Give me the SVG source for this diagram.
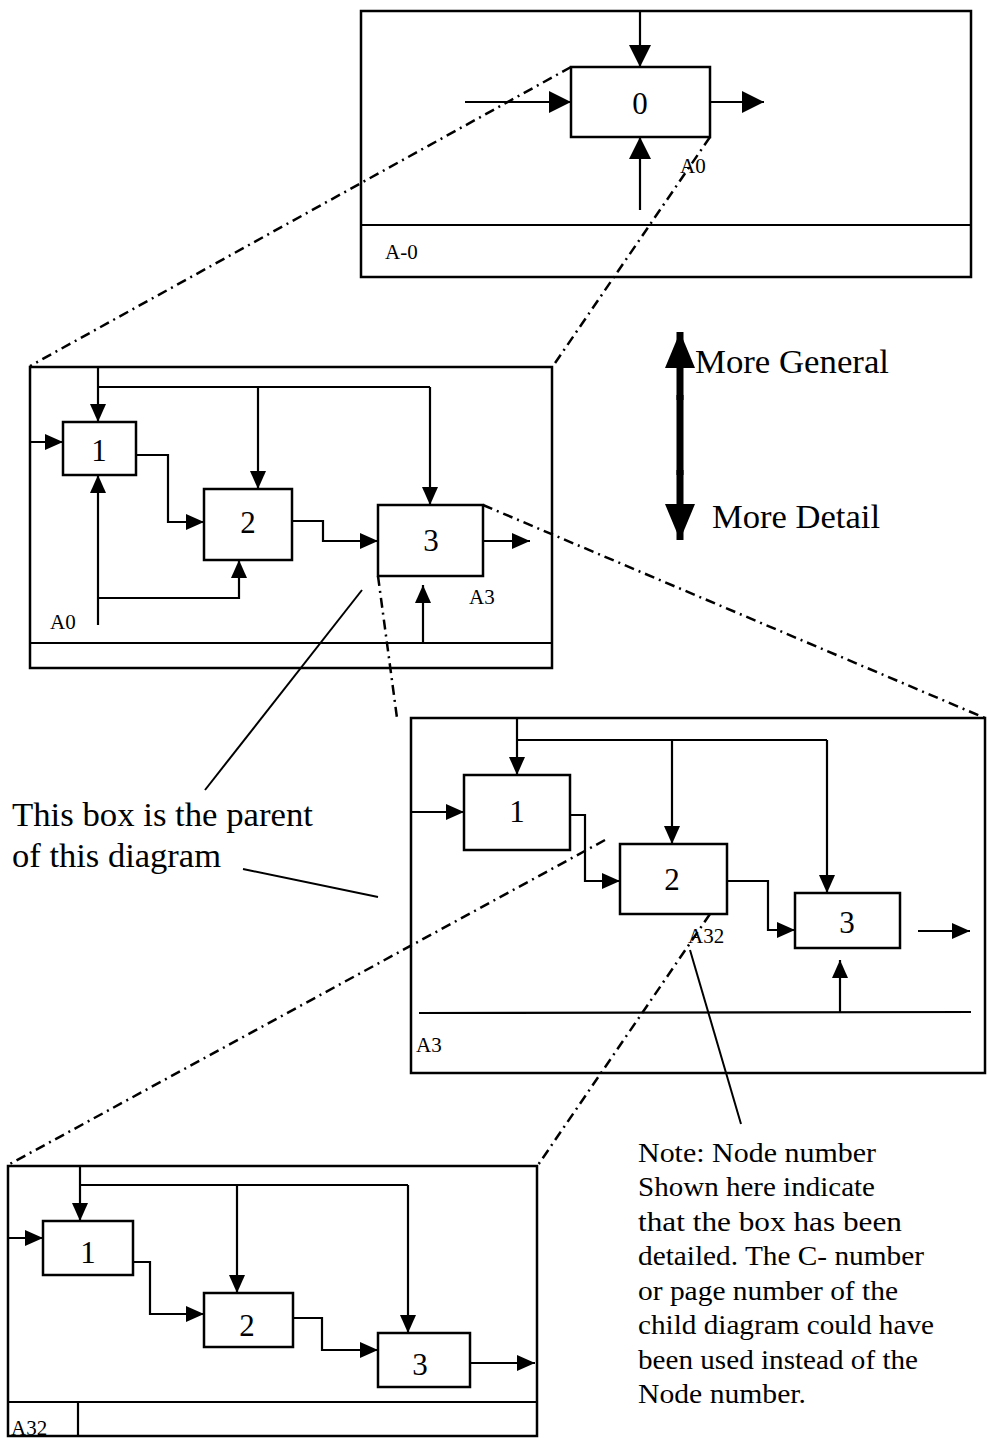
<svg xmlns="http://www.w3.org/2000/svg" width="987" height="1438" viewBox="0 0 987 1438">
<defs>
<marker id="ah" markerUnits="userSpaceOnUse" markerWidth="20" markerHeight="18" refX="18" refY="8" orient="auto"><path d="M0,0 L18,8 L0,16 z" fill="#000"/></marker>
<marker id="ahL" markerUnits="userSpaceOnUse" markerWidth="24" markerHeight="24" refX="22" refY="11" orient="auto"><path d="M0,0 L22,11 L0,22 z" fill="#000"/></marker>
<marker id="big" markerUnits="userSpaceOnUse" markerWidth="40" markerHeight="32" refX="36" refY="15" orient="auto"><path d="M0,0 L36,15 L0,30 z" fill="#000"/></marker>
<style>
.fr{fill:none;stroke:#000;stroke-width:2.5}
.bx{fill:#fff;stroke:#000;stroke-width:2.5}
.ln{fill:none;stroke:#000;stroke-width:2.2}
.ar{fill:none;stroke:#000;stroke-width:2.2;marker-end:url(#ah)}
.arL{fill:none;stroke:#000;stroke-width:2.2;marker-end:url(#ahL)}
.dd{fill:none;stroke:#000;stroke-width:2.5;stroke-dasharray:10 5 2 5}
.ptr{fill:none;stroke:#000;stroke-width:2}
.num{font-family:"Liberation Serif",serif;font-size:31px;text-anchor:middle}
.lab{font-family:"Liberation Serif",serif;font-size:21px}
.big{font-family:"Liberation Serif",serif;font-size:33px}
.note{font-family:"Liberation Serif",serif;font-size:27px}
</style>
</defs>

<g id="diagram-A-0">
<rect class="fr" x="361" y="11" width="610" height="266"/>
<line class="ln" x1="361" y1="225" x2="971" y2="225"/>
<text class="lab" x="385" y="259">A-0</text>
</g>
<g id="node-0">
<rect class="bx" x="571" y="67" width="139" height="70"/>
<text class="num" x="640" y="114">0</text>
<text class="lab" x="680" y="173">A0</text>
</g>

<g id="diagram-A0">
<rect class="fr" x="30" y="367" width="522" height="301"/>
<line class="ln" x1="30" y1="643" x2="552" y2="643"/>
<text class="lab" x="50" y="629">A0</text>
<text class="lab" x="469" y="604">A3</text>
</g>
<g id="A0-node-1"><rect class="bx" x="63" y="422" width="73" height="53"/><text class="num" x="99" y="461">1</text></g>
<g id="A0-node-2"><rect class="bx" x="204" y="489" width="88" height="71"/><text class="num" x="248" y="533">2</text></g>
<g id="A0-node-3"><rect class="bx" x="378" y="505" width="105" height="71"/><text class="num" x="431" y="551">3</text></g>

<g id="diagram-A3">
<rect class="fr" x="411" y="718" width="574" height="355"/>
<line class="ln" x1="419" y1="1013" x2="971" y2="1012"/>
<text class="lab" x="416" y="1052">A3</text>
<text class="lab" x="688" y="943">A32</text>
</g>
<g id="A3-node-1"><rect class="bx" x="464" y="775" width="106" height="75"/><text class="num" x="517" y="822">1</text></g>
<g id="A3-node-2"><rect class="bx" x="620" y="844" width="107" height="70"/><text class="num" x="672" y="890">2</text></g>
<g id="A3-node-3"><rect class="bx" x="795" y="893" width="105" height="55"/><text class="num" x="847" y="933">3</text></g>

<g id="diagram-A32">
<rect class="fr" x="8" y="1166" width="529" height="270"/>
<line class="ln" x1="8" y1="1402" x2="537" y2="1402"/>
<line class="ln" x1="78" y1="1402" x2="78" y2="1436"/>
<text class="lab" x="11" y="1435" font-size="22">A32</text>
</g>
<g id="A32-node-1"><rect class="bx" x="43" y="1221" width="90" height="54"/><text class="num" x="88" y="1263">1</text></g>
<g id="A32-node-2"><rect class="bx" x="204" y="1293" width="89" height="54"/><text class="num" x="247" y="1336">2</text></g>
<g id="A32-node-3"><rect class="bx" x="378" y="1333" width="92" height="54"/><text class="num" x="420" y="1375">3</text></g>

<g id="connectors">
<!-- top -->
<line class="arL" x1="640" y1="11" x2="640" y2="67"/>
<line class="arL" x1="465" y1="102" x2="571" y2="102"/>
<line class="arL" x1="710" y1="102" x2="764" y2="102"/>
<line class="arL" x1="640" y1="210" x2="640" y2="137"/>
<!-- A0 -->
<polyline class="ar" points="98,367 98,422"/>
<polyline class="ln" points="98,387 430,387"/>
<polyline class="ar" points="258,387 258,489"/>
<polyline class="ar" points="430,387 430,505"/>
<polyline class="ar" points="30,442 63,442"/>
<polyline class="ar" points="136,455 168,455 168,522 204,522"/>
<polyline class="ar" points="292,521 323,521 323,541 378,541"/>
<polyline class="ar" points="483,541 530,541"/>
<polyline class="ar" points="98,625 98,475"/>
<polyline class="ar" points="98,598 239,598 239,560"/>
<polyline class="ar" points="423,643 423,585"/>
<!-- A3 -->
<polyline class="ar" points="517,718 517,775"/>
<polyline class="ln" points="517,740 827,740"/>
<polyline class="ar" points="672,740 672,844"/>
<polyline class="ar" points="827,740 827,893"/>
<polyline class="ar" points="411,812 464,812"/>
<polyline class="ar" points="570,815 585,815 585,881 620,881"/>
<polyline class="ar" points="727,881 768,881 768,930 795,930"/>
<polyline class="ar" points="918,931 970,931"/>
<polyline class="ar" points="840,1012 840,960"/>
<!-- A32 -->
<polyline class="ar" points="80,1166 80,1221"/>
<polyline class="ln" points="80,1185 408,1185"/>
<polyline class="ar" points="237,1185 237,1293"/>
<polyline class="ar" points="408,1185 408,1333"/>
<polyline class="ar" points="8,1238 43,1238"/>
<polyline class="ar" points="133,1262 150,1262 150,1314 204,1314"/>
<polyline class="ar" points="293,1318 322,1318 322,1350 378,1350"/>
<polyline class="ar" points="470,1363 535,1363"/>
<!-- dash-dot decomposition lines -->
<line class="dd" x1="571" y1="67" x2="30" y2="366"/>
<line class="dd" x1="710" y1="137" x2="553" y2="366"/>
<line class="dd" x1="483" y1="505" x2="985" y2="718"/>
<line class="dd" x1="378" y1="576" x2="397" y2="718"/>
<line class="dd" x1="605" y1="840" x2="8" y2="1165"/>
<line class="dd" x1="710" y1="914" x2="538" y2="1165"/>
<!-- pointers -->
<line class="ptr" x1="362" y1="590" x2="205" y2="790"/>
<line class="ptr" x1="243" y1="869" x2="378" y2="897"/>
<line class="ptr" x1="690" y1="950" x2="741" y2="1124"/>
<!-- level arrow -->
<line x1="680" y1="395" x2="680" y2="475" stroke="#000" stroke-width="7"/>
<line x1="680" y1="400" x2="680" y2="332" stroke="#000" stroke-width="7" marker-end="url(#big)"/>
<line x1="680" y1="470" x2="680" y2="540" stroke="#000" stroke-width="7" marker-end="url(#big)"/>
</g>

<g id="labels">
<text class="big" x="695" y="373" textLength="194" lengthAdjust="spacingAndGlyphs">More General</text>
<text class="big" x="712" y="528" textLength="168" lengthAdjust="spacingAndGlyphs">More Detail</text>
<text class="big" x="12" y="826" textLength="301" lengthAdjust="spacingAndGlyphs">This box is the parent</text>
<text class="big" x="12" y="867" textLength="209" lengthAdjust="spacingAndGlyphs">of this diagram</text>
<text class="note" x="638" y="1162" textLength="238" lengthAdjust="spacingAndGlyphs">Note: Node number</text>
<text class="note" x="638" y="1196" textLength="237" lengthAdjust="spacingAndGlyphs">Shown here indicate</text>
<text class="note" x="638" y="1231" textLength="264" lengthAdjust="spacingAndGlyphs">that the box has been</text>
<text class="note" x="638" y="1265" textLength="286" lengthAdjust="spacingAndGlyphs">detailed. The C- number</text>
<text class="note" x="638" y="1300" textLength="260" lengthAdjust="spacingAndGlyphs">or page number of the</text>
<text class="note" x="638" y="1334" textLength="296" lengthAdjust="spacingAndGlyphs">child diagram could have</text>
<text class="note" x="638" y="1369" textLength="280" lengthAdjust="spacingAndGlyphs">been used instead of the</text>
<text class="note" x="638" y="1403" textLength="168" lengthAdjust="spacingAndGlyphs">Node number.</text>
</g>
</svg>
